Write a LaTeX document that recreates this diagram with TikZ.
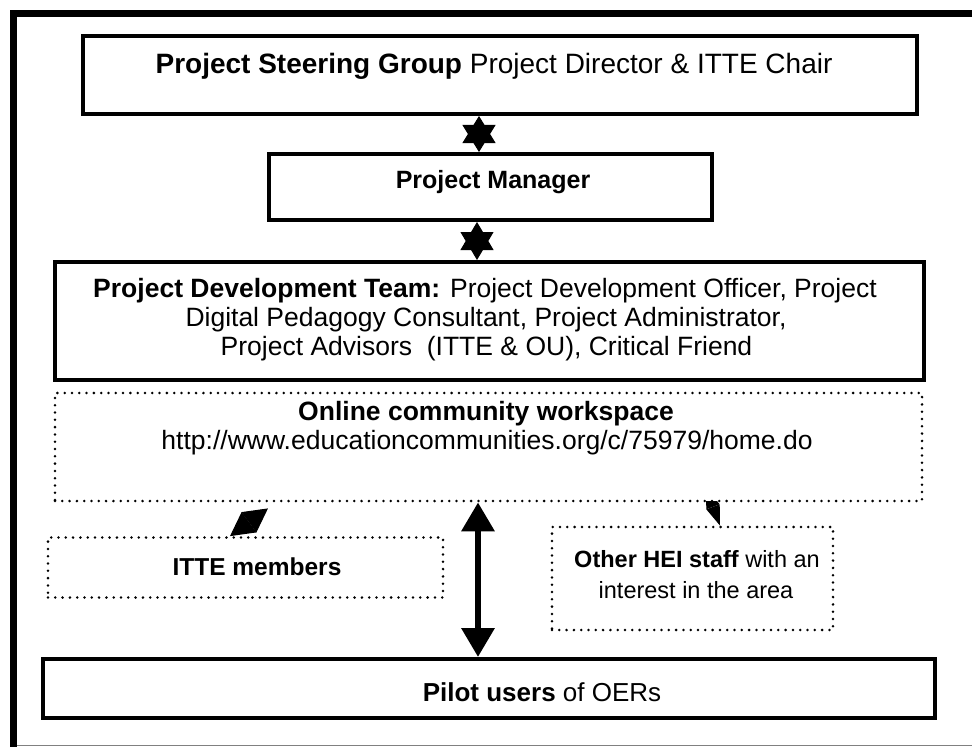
\documentclass[tikz,border=0pt]{standalone}
\usepackage{fontspec}
\setmainfont{Liberation Sans}
\usetikzlibrary{arrows.meta,backgrounds}
\begin{document}
\begin{tikzpicture}[x=1bp,y=-1bp,
  box/.style={draw,line width=4bp,inner sep=0pt,fill=white},
  dotbox/.style={draw,line width=2.8bp,dash pattern=on 0bp off 7.3bp,line cap=round,inner sep=0pt,fill=white},
  txt/.style={font=\fontsize{#1}{29bp}\selectfont,anchor=base,inner sep=0pt},
  txt/.default=24.5bp,
  star/.style={line width=1bp,{Triangle[length=#1,width=33bp]}-{Triangle[length=#1,width=33bp]}}]
\useasboundingbox (0,0) rectangle (972,747);
% outer frame (cut by the page at right and bottom)
\draw[line width=7bp] (13.5,747) -- (13.5,13.5) -- (972,13.5);
\draw[gray,line width=1bp] (17,745.5) -- (972,745.5);
% boxes
\node[box,minimum width=834bp,minimum height=78bp] (steer) at (500,75) {};
\node[box,minimum width=443bp,minimum height=66bp] (mgr) at (490.5,187) {};
\node[box,minimum width=869bp,minimum height=118bp] (dev) at (489.5,321) {};
\node[dotbox,minimum width=867bp,minimum height=108bp] (online) at (488.5,447) {};
\node[dotbox,minimum width=395bp,minimum height=60bp] (itte) at (245.5,567.5) {};
\node[dotbox,minimum width=281bp,minimum height=103bp] (hei) at (692.5,578.5) {};
\node[box,minimum width=892bp,minimum height=59bp] (pilot) at (489,688.5) {};
% texts
\node[txt=28bp] (t1) at (494,74) {{\bfseries Project Steering Group} Project Director \& ITTE Chair};
\node[txt=25bp] (t2) at (493,188) {\bfseries Project Manager};
\node[txt=26.5bp] (t3) at (485,297) {{\bfseries Project Development Team:} Project Development Officer, Project};
\node[txt=26.5bp] (t4) at (486,326) {Digital Pedagogy Consultant, Project Administrator,};
\node[txt=26.5bp] (t5) at (486.5,355) {Project Advisors\ \ (ITTE \& OU), Critical Friend};
\node[txt=26.5bp] (t6) at (486,420) {\bfseries Online community workspace};
\node[txt=26.5bp] (t7) at (487,449) {http://www.educationcommunities.org/c/75979/home.do};
\node[txt] (t8) at (257,575) {\bfseries ITTE members};
\node[txt=23.5bp] (t9) at (697,567) {{\bfseries Other HEI staff} with an};
\node[txt=23.5bp] (t10) at (696,598) {interest in the area};
\node[txt=26bp] (t11) at (542,701) {{\bfseries Pilot users} of OERs};
% connectors
\draw[star=27bp] ([xshift=-21bp]steer.south) -- ([xshift=-11.5bp]mgr.north);
\draw[star=28bp] ([xshift=-13.5bp]mgr.south) -- ([xshift=-12.5bp]dev.north);
\draw[line width=6.5bp,{Triangle[length=29bp,width=32bp]}-{Triangle[length=29bp,width=32bp]}]
  ([xshift=-10.5bp]online.south) -- ([xshift=-11bp]pilot.north);
\draw[line width=1bp,{Triangle[length=23.6bp,width=25bp]}-{Triangle[length=23.6bp,width=25bp]}]
  ([xshift=-15.5bp]itte.north) -- ([xshift=-220.5bp,yshift=-6bp]online.south);
\begin{pgfonlayer}{background}
\draw[line width=1bp,{Triangle[length=20bp,width=14bp]}-{Triangle[length=20bp,width=14bp]}]
  ([xshift=217.5bp,yshift=14.4bp]online.south) -- ([xshift=27.5bp]hei.north);
\end{pgfonlayer}
\end{tikzpicture}
\end{document}
